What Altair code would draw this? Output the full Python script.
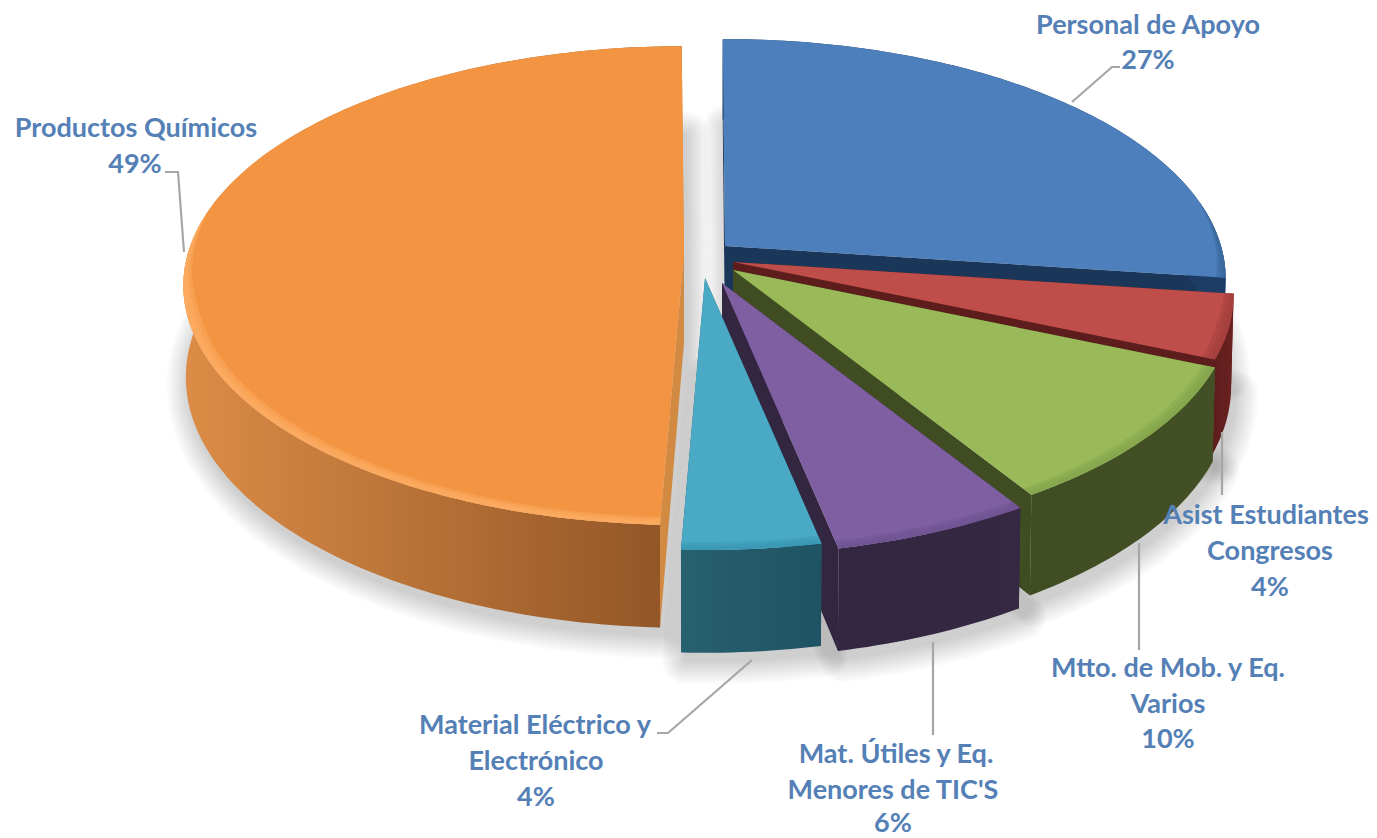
import math
import altair as alt

# ---- chart values ----
CATEGORIES = ["Personal de Apoyo", "Asist Estudiantes Congresos", "Mtto. de Mob. y Eq. Varios",
              "Mat. Útiles y Eq. Menores de TIC'S", "Material Eléctrico y Electrónico", "Productos Químicos"]
VALUES = [27.2, 4.3, 9.65, 5.67, 3.93, 49.25]
TOP = ["#4c7fbb", "#bf4e4b", "#9aba59", "#7f5fa1", "#4aa9c5", "#f39443"]
BEVEL = ["#3a679c", "#a03f3c", "#83a44c", "#6f5192", "#3a97b3", "#fdb066"]
WALL_L = ["#1a3659", "#5c1d1c", "#404d22", "#332640", "#27606f", "#dc8c46"]
WALL_R = ["#1e3d66", "#6a2220", "#435025", "#352842", "#1f5363", "#8f5426"]
CUT = ["#1a3659", "#5c1d1c", "#404d22", "#332640", "#27606f", "#d28a42"]
EXPLODE = [(725, 246), (733, 262), (733, 270), (722, 283), (705, 278), (684, 253)]
LINES = [
    ("Personal de Apoyo", 1148, 26), ("27%", 1148, 61),
    ("Productos Químicos", 136, 129), ("49%", 135, 165),
    ("Asist Estudiantes", 1266, 516), ("Congresos", 1270, 552), ("4%", 1270, 588),
    ("Mtto. de Mob. y Eq.", 1168, 669), ("Varios", 1168, 705), ("10%", 1168, 740),
    ("Material Eléctrico y", 535, 726), ("Electrónico", 536, 762), ("4%", 536, 798),
    ("Mat. Útiles y Eq.", 896, 755), ("Menores de TIC'S", 893, 791), ("6%", 893, 824),
]
LEADERS = [
    [(1072, 102), (1112, 67), (1120, 67)],
    [(184, 252), (178, 172), (165, 172)],
    [(1222, 432), (1222, 495)],
    [(1139, 543), (1139, 650)],
    [(933, 642), (933, 735)],
    [(752, 660), (668, 733), (657, 733)],
]

# ---- projection of the tilted disc ----
A, B, K = 496, 235, 0.136
DEPTH = 90
SHRINK = 0.995
ROT = -0.3
M = 8  # page margin


def top(apex, t, r=1.0):
    u, v = r * math.sin(math.radians(t)), -r * math.cos(math.radians(t))
    w = 1 - K * v
    return (apex[0] + A * u / w - M, apex[1] + B * v / w - M)


def bot(apex, t, r=1.0):
    x, y = top(apex, t, r)
    v = -r * math.cos(math.radians(t))
    return (apex[0] - M + (x - apex[0] + M) * SHRINK, apex[1] - M + (y - apex[1] + M) * SHRINK + DEPTH / (1 - K * v))


def arc(a0, a1):
    n = max(2, int(abs(a1 - a0)))
    return [a0 + (a1 - a0) * i / n for i in range(n + 1)]


def shape(points, kind="Polygon"):
    pts = [list(p) for p in points]
    if kind == "Polygon":
        pts = pts + [pts[0]]
        geom = {"type": "Polygon", "coordinates": [pts]}
    else:
        geom = {"type": "LineString", "coordinates": pts}
    return alt.Data(values=[{"type": "Feature", "properties": {}, "geometry": geom}])


PROJ = dict(type="identity", scale=1, translate=[0, 0])


def draw(points, kind="Polygon", **mark):
    return alt.Chart(shape(points, kind)).mark_geoshape(**mark).project(**PROJ)


def grad(c0, c1):
    return alt.LinearGradient(gradient="linear", x1=0, x2=1, y1=0, y2=0,
                              stops=[alt.GradientStop(color=c0, offset=0), alt.GradientStop(color=c1, offset=1)])


def taper(t):
    v = -math.cos(math.radians(t))
    return max(0.0, min(1.0, (v + 0.2) / 0.45))


layers = []
spans = []
start = ROT
for val in VALUES:
    spans.append((start, start + val * 3.6))
    start += val * 3.6

# soft shadow under every slice
for (a0, a1), apex in zip(spans, EXPLODE):
    face = [bot(apex, 0, 0)] + [bot(apex, t) for t in arc(a0, a1)]
    face = [(x + 4, y + 8) for x, y in face]
    for w in range(46, 0, -4):
        layers.append(draw(face, fill="#000000", stroke="#000000", strokeWidth=w, strokeJoin="round", opacity=0.013))

# slices, back to front
for i in [5, 0, 1, 2, 3, 4]:
    a0, a1 = spans[i]
    apex = EXPLODE[i]
    for t in (a0, a1):
        layers.append(draw([top(apex, t, 0), top(apex, t), bot(apex, t), bot(apex, t, 0)], fill=CUT[i], strokeWidth=0))
    ts = arc(a0, a1)
    wall = [top(apex, t) for t in ts] + [bot(apex, t) for t in reversed(ts)]
    layers.append(draw(wall, fill=grad(WALL_L[i], WALL_R[i]), strokeWidth=0))
    layers.append(draw([top(apex, 0, 0)] + [top(apex, t) for t in ts], fill=TOP[i], strokeWidth=0))
    fronts = [t for t in ts if taper(t) > 0]
    if len(fronts) > 1:
        for r in (0.025, 0.017, 0.009):
            band = [top(apex, t) for t in fronts] + [top(apex, t, 1 - r * taper(t)) for t in reversed(fronts)]
            layers.append(draw(band, fill=BEVEL[i], strokeWidth=0, opacity=0.45))

for seg in LEADERS:
    layers.append(draw([(x - M, y - M) for x, y in seg], kind="LineString", filled=False, stroke="#a6a6a6", strokeWidth=2.2, fill="transparent"))

labels = alt.Chart(alt.Data(values=[{"t": t, "x": x - M, "y": y - M} for t, x, y in LINES])).mark_text(
    font="Lato", fontWeight="bold", fontSize=27, color="#5480b6", align="center", baseline="middle"
).encode(x=alt.X("x:Q", scale=None, axis=None), y=alt.Y("y:Q", scale=None, axis=None), text="t:N")
layers.append(labels)

chart = alt.layer(*layers).properties(
    width=1361, height=832, padding=0, autosize=alt.AutoSizeParams(type="none"), background="white"
).configure_view(stroke=None)

chart.save("out.html", embed_options={"renderer": "svg", "actions": False})
